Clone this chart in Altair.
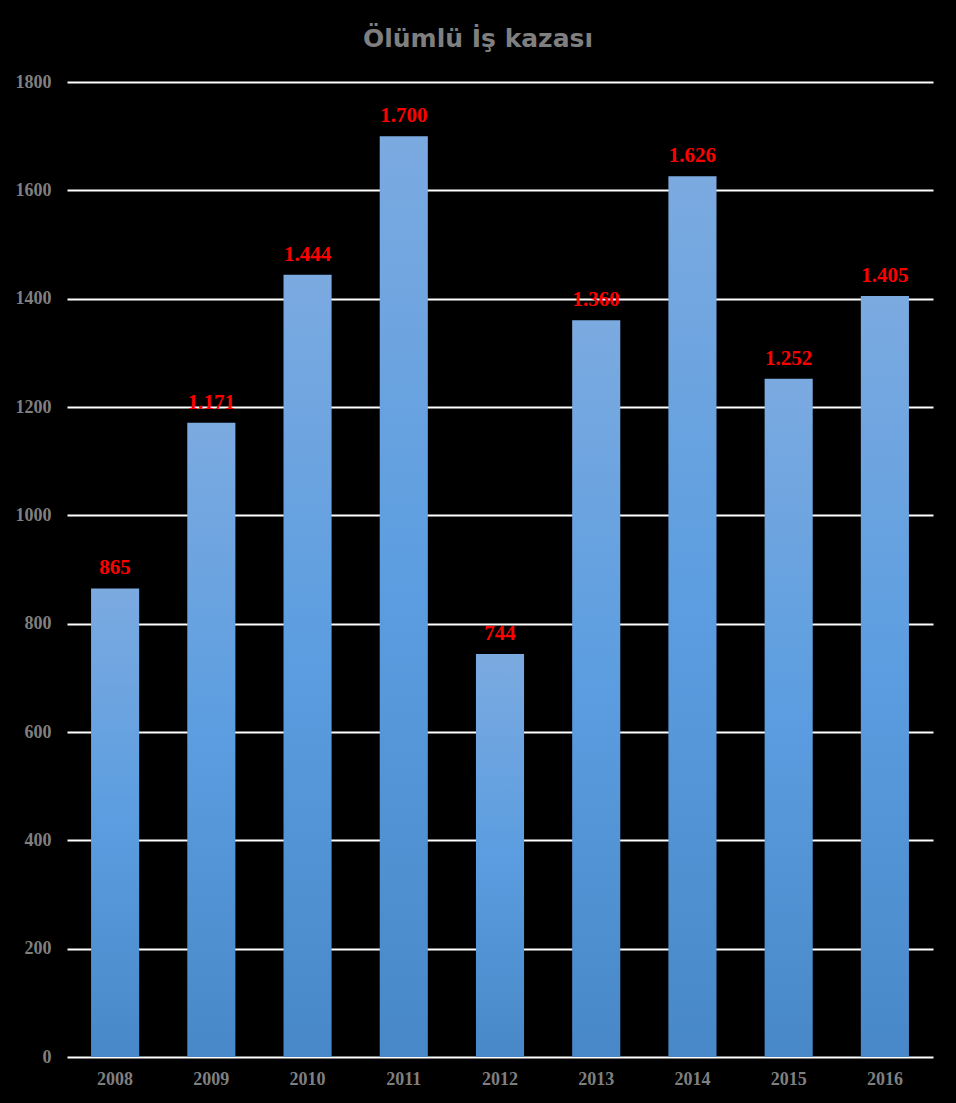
import altair as alt
import pandas as pd

years = ["2008", "2009", "2010", "2011", "2012", "2013", "2014", "2015", "2016"]
values = [865, 1171, 1444, 1700, 744, 1360, 1626, 1252, 1405]
y_ticks = [0, 200, 400, 600, 800, 1000, 1200, 1400, 1600, 1800]

df = pd.DataFrame({"year": years, "value": values})

x = alt.X("year:N", title=None, sort=years,
          scale=alt.Scale(paddingInner=0.5, paddingOuter=0.25),
          axis=alt.Axis(labelAngle=0, domain=False, ticks=False, labelPadding=13,
                        labelFont="Liberation Serif", labelFontWeight="bold",
                        labelFontSize=18, labelColor="#7f7f7f"))
y = alt.Y("value:Q", title=None,
          scale=alt.Scale(domain=[0, 1800], nice=False),
          axis=alt.Axis(values=y_ticks, format="d", domain=False, ticks=False, labelPadding=16,
                        labelFont="Liberation Serif", labelFontWeight="bold",
                        labelFontSize=18, labelColor="#7f7f7f",
                        grid=True, gridColor="#ffffff", gridWidth=2, gridOpacity=1))

bars = alt.Chart(df).mark_bar(
    color=alt.Gradient(
        gradient="linear", x1=0, y1=0, x2=0, y2=1,
        stops=[alt.GradientStop(offset=0, color="#7BAAE0"),
               alt.GradientStop(offset=0.5, color="#5B9DE0"),
               alt.GradientStop(offset=1, color="#4888C8")])
).encode(x=x, y=y)

labels = alt.Chart(df).transform_calculate(
    lbl="replace(format(datum.value, ','), ',', '.')"
).mark_text(
    font="Liberation Serif", fontWeight="bold", fontSize=21, color="#ff0000",
    baseline="alphabetic", dy=-14
).encode(x=alt.X("year:N", sort=years), y="value:Q", text="lbl:N")

chart = (bars + labels).properties(
    width=866, height=975,
    background="#000000",
    autosize=alt.AutoSizeParams(type="none"),
    padding={"left": 67, "top": 82, "right": 23, "bottom": 46},
    title=alt.TitleParams("Ölümlü İş kazası", font="DejaVu Sans", fontWeight="bold",
                          fontSize=25, color="#7f7f7f", anchor="middle",
                          baseline="bottom", offset=-4, dx=-22)
).configure_view(stroke=None)

chart.save("out.html", embed_options={"renderer": "svg", "actions": False})
